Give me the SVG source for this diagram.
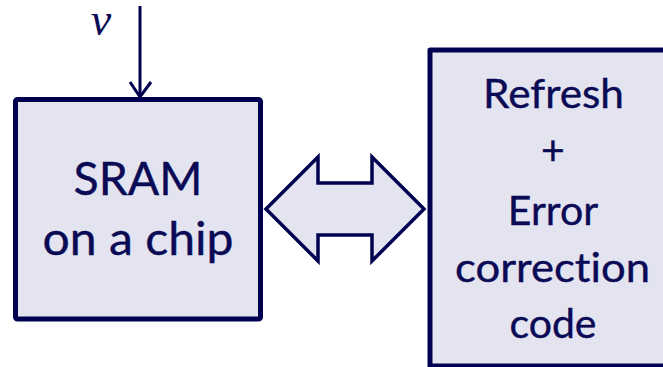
<svg xmlns="http://www.w3.org/2000/svg" width="663" height="367" viewBox="0 0 663 367">
<style>
.box{fill:#e4e4f1;stroke:#000050;stroke-width:5;stroke-linejoin:round}
.lbl{font-family:Lato,"Open Sans",sans-serif;fill:#0a0a55;text-anchor:middle;font-variant-ligatures:none;stroke:#0a0a55;stroke-width:0.4}
.conn{fill:none;stroke:#000050;stroke-width:3}
</style>
<rect width="663" height="367" fill="#ffffff"/>
<g id="sram">
<rect class="box" x="15.5" y="99.5" width="245" height="219.5" rx="2"/>
<text class="lbl" x="138" y="195" font-size="47" textLength="129" lengthAdjust="spacingAndGlyphs">SRAM</text>
<text class="lbl" x="138" y="255" font-size="47" textLength="191" lengthAdjust="spacingAndGlyphs">on a chip</text>
</g>
<g id="refresh">
<rect class="box" x="430" y="50" width="245" height="316"/>
<text class="lbl" x="553.5" y="108" font-size="41" textLength="141" lengthAdjust="spacingAndGlyphs">Refresh</text>
<text class="lbl" x="553" y="165" font-size="41">+</text>
<text class="lbl" x="553" y="225" font-size="41">Error</text>
<text class="lbl" x="552.5" y="282" font-size="41" textLength="195" lengthAdjust="spacingAndGlyphs">correction</text>
<text class="lbl" x="553" y="338" font-size="41">code</text>
</g>
<g id="input">
<text x="101" y="35" font-family="'Liberation Serif',serif" font-style="italic" font-size="46" fill="#0a0a55" text-anchor="middle">v</text>
</g>
<g id="connectors">
<path class="conn" d="M140,6 V96"/>
<path class="conn" d="M130,82 L140,97 L151,82"/>
<polygon points="266,209 318,157 318,183 372,183 372,157 424,209 372,261 372,235 318,235 318,261" fill="#e4e4f1" stroke="#000050" stroke-width="3.5" stroke-linejoin="miter"/>
</g>
</svg>
